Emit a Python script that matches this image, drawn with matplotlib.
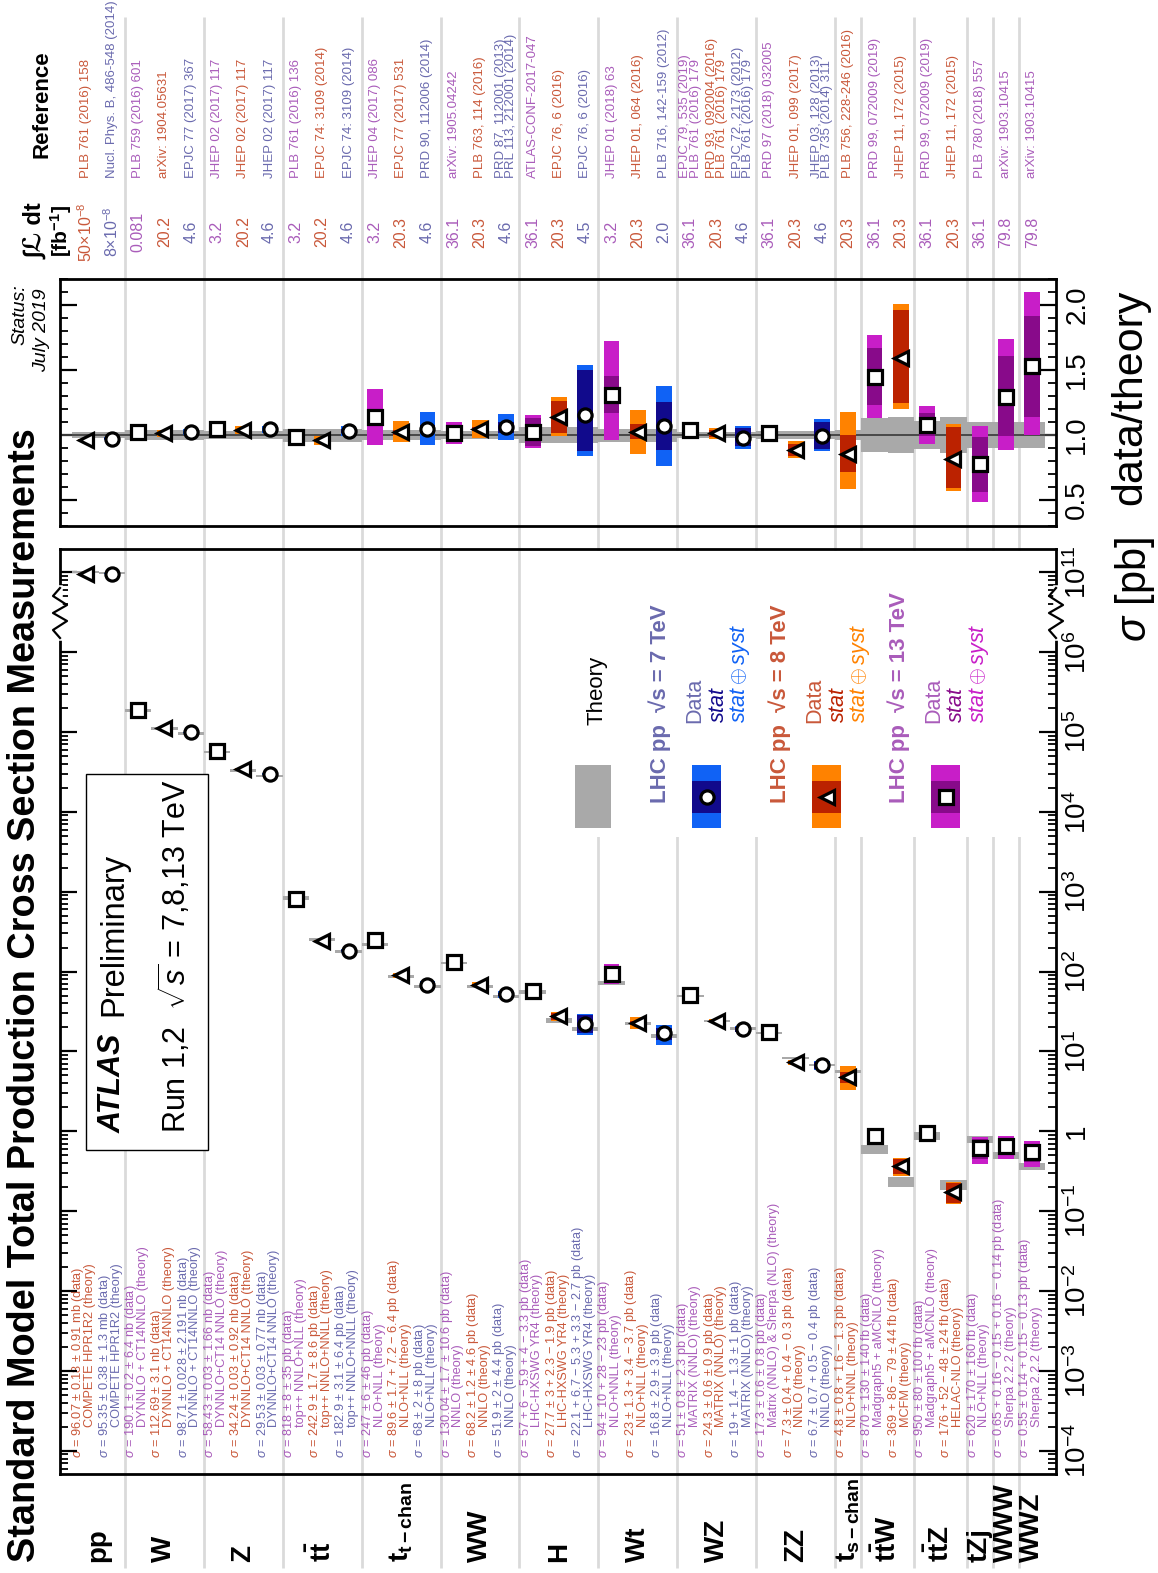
"""ATLAS SM total production cross-section summary (July 2019), portrait layout."""

import numpy as np
import matplotlib
matplotlib.use("Agg")
import matplotlib.pyplot as plt
from matplotlib import font_manager
from matplotlib.patches import Rectangle
from matplotlib.transforms import Affine2D
from matplotlib.ticker import FixedLocator, MultipleLocator

# ---------------------------------------------------------------------------
# measurements, one column each, left to right
energy = [8, 7, 13, 8, 7, 13, 8, 7, 13, 8, 7, 13, 8, 7, 13, 8, 7, 13, 8, 7,
          13, 8, 7, 13, 8, 7, 13, 8, 7, 8, 13, 8, 13, 8, 13, 13, 13]
process = ["pp", "pp", "W", "W", "W", "Z", "Z", "Z", "tt", "tt", "tt",
           "tchan", "tchan", "tchan", "WW", "WW", "WW", "H", "H", "H",
           "Wt", "Wt", "Wt", "WZ", "WZ", "WZ", "ZZ", "ZZ", "ZZ", "schan",
           "ttW", "ttW", "ttZ", "ttZ", "tZj", "WWW", "WWZ"]

# cross sections in pb
sigma_data = [9.607e10, 9.535e10, 1.901e5, 1.1269e5, 9.871e4, 5.843e4, 3.424e4, 2.953e4,
              818, 242.9, 182.9, 247, 89.6, 68, 130.04, 68.2, 51.9, 57, 27.7, 22.1,
              94, 23, 16.8, 51, 24.3, 19, 17.3, 7.3, 6.7, 4.8,
              0.870, 0.369, 0.950, 0.176, 0.620, 0.65, 0.55]
stat_hi = [0.18e9, 0.38e9, 200, 0, 28, 30, 30, 30, 8, 1.7, 3.1, 6, 1.7, 2, 1.7, 1.2, 2,
           6, 3, 6.7, 10, 1.3, 2.9, 0.8, 0.6, 1.4, 0.6, 0.4, 0.7, 0.8,
           0.130, 0.086, 0.080, 0.052, 0.170, 0.16, 0.14]
stat_lo = [0.18e9, 0.38e9, 200, 0, 28, 30, 30, 30, 8, 1.7, 3.1, 6, 1.7, 2, 1.7, 1.2, 2,
           5.9, 3, 5.3, 10, 1.3, 2.9, 0.8, 0.6, 1.3, 0.6, 0.4, 0.7, 0.8,
           0.130, 0.079, 0.080, 0.048, 0.170, 0.15, 0.14]
syst_hi = [0.91e9, 1.3e9, 6400, 3100, 2191, 1660, 920, 770, 35, 8.6, 6.4, 46, 7.2, 8,
           10.6, 4.6, 4.4, 4, 2.3, 3.3, 28, 3.4, 3.9, 2.3, 0.9, 1, 0.8, 0.4, 0.5, 1.6,
           0.140, 0.044, 0.100, 0.024, 0.160, 0.16, 0.15]
syst_lo = [0.91e9, 1.3e9, 6400, 3100, 2191, 1660, 920, 770, 35, 8.6, 6.4, 46, 6.4, 8,
           10.6, 4.6, 4.4, 3.3, 1.9, 2.7, 23, 3.7, 3.9, 2.3, 0.9, 1, 0.8, 0.3, 0.4, 1.3,
           0.140, 0.044, 0.100, 0.024, 0.160, 0.14, 0.13]
sigma_theory = [1.000e11, 9.80e10, 1.855e5, 1.112e5, 9.63e4, 5.60e4, 3.30e4, 2.83e4,
                832, 253, 177.3, 217, 87.7, 64.8, 128.4, 65.2, 49.0, 55.6, 24.4, 19.2,
                71.7, 22.4, 15.7, 49.1, 24.0, 19.4, 17.0, 8.25, 6.73, 5.61,
                0.600, 0.232, 0.880, 0.215, 0.800, 0.504, 0.360]
theory_rel = [0.02, 0.02, 0.04, 0.04, 0.04, 0.03, 0.03, 0.03, 0.05, 0.05, 0.05,
              0.04, 0.04, 0.04, 0.03, 0.03, 0.03, 0.06, 0.06, 0.06, 0.05, 0.05, 0.05,
              0.025, 0.025, 0.025, 0.03, 0.03, 0.03, 0.04,
              0.13, 0.14, 0.11, 0.14, 0.10, 0.10, 0.10]

data_text = [
    "$\\sigma$ = 96.07 ± 0.18 ± 0.91 mb (data)",
    "$\\sigma$ = 95.35 ± 0.38 ± 1.3 mb (data)",
    "$\\sigma$ = 190.1 ± 0.2 ± 6.4 nb (data)",
    "$\\sigma$ = 112.69 ± 3.1 nb (data)",
    "$\\sigma$ = 98.71 ± 0.028 ± 2.191 nb (data)",
    "$\\sigma$ = 58.43 ± 0.03 ± 1.66 nb (data)",
    "$\\sigma$ = 34.24 ± 0.03 ± 0.92 nb (data)",
    "$\\sigma$ = 29.53 ± 0.03 ± 0.77 nb (data)",
    "$\\sigma$ = 818 ± 8 ± 35 pb (data)",
    "$\\sigma$ = 242.9 ± 1.7 ± 8.6 pb (data)",
    "$\\sigma$ = 182.9 ± 3.1 ± 6.4 pb (data)",
    "$\\sigma$ = 247 ± 6 ± 46 pb (data)",
    "$\\sigma$ = 89.6 ± 1.7 + 7.2 − 6.4 pb (data)",
    "$\\sigma$ = 68 ± 2 ± 8 pb (data)",
    "$\\sigma$ = 130.04 ± 1.7 ± 10.6 pb (data)",
    "$\\sigma$ = 68.2 ± 1.2 ± 4.6 pb (data)",
    "$\\sigma$ = 51.9 ± 2 ± 4.4 pb (data)",
    "$\\sigma$ = 57 + 6 − 5.9 + 4 − 3.3 pb (data)",
    "$\\sigma$ = 27.7 ± 3 + 2.3 − 1.9 pb (data)",
    "$\\sigma$ = 22.1 + 6.7 − 5.3 + 3.3 − 2.7 pb (data)",
    "$\\sigma$ = 94 ± 10 + 28 − 23 pb (data)",
    "$\\sigma$ = 23 ± 1.3 + 3.4 − 3.7 pb (data)",
    "$\\sigma$ = 16.8 ± 2.9 ± 3.9 pb (data)",
    "$\\sigma$ = 51 ± 0.8 ± 2.3 pb (data)",
    "$\\sigma$ = 24.3 ± 0.6 ± 0.9 pb (data)",
    "$\\sigma$ = 19 + 1.4 − 1.3 ± 1 pb (data)",
    "$\\sigma$ = 17.3 ± 0.6 ± 0.8 pb (data)",
    "$\\sigma$ = 7.3 ± 0.4 + 0.4 − 0.3 pb (data)",
    "$\\sigma$ = 6.7 ± 0.7 + 0.5 − 0.4 pb (data)",
    "$\\sigma$ = 4.8 ± 0.8 + 1.6 − 1.3 pb (data)",
    "$\\sigma$ = 870 ± 130 ± 140 fb (data)",
    "$\\sigma$ = 369 + 86 − 79 ± 44 fb (data)",
    "$\\sigma$ = 950 ± 80 ± 100 fb (data)",
    "$\\sigma$ = 176 + 52 − 48 ± 24 fb (data)",
    "$\\sigma$ = 620 ± 170 ± 160 fb (data)",
    "$\\sigma$ = 0.65 + 0.16 − 0.15 + 0.16 − 0.14 pb (data)",
    "$\\sigma$ = 0.55 ± 0.14 + 0.15 − 0.13 pb (data)",
]
theory_text = [
    "COMPETE HPR1R2 (theory)", "COMPETE HPR1R2 (theory)",
    "DYNNLO + CT14NNLO (theory)", "DYNNLO + CT14NNLO (theory)", "DYNNLO + CT14NNLO (theory)",
    "DYNNLO+CT14 NNLO (theory)", "DYNNLO+CT14 NNLO (theory)", "DYNNLO+CT14 NNLO (theory)",
    "top++ NNLO+NLL (theory)", "top++ NNLO+NNLL (theory)", "top++ NNLO+NNLL (theory)",
    "NLO+NLL (theory)", "NLO+NLL (theory)", "NLO+NLL (theory)",
    "NNLO (theory)", "NNLO (theory)", "NNLO (theory)",
    "LHC-HXSWG YR4 (theory)", "LHC-HXSWG YR4 (theory)", "LHC-HXSWG YR4 (theory)",
    "NLO+NNLL (theory)", "NLO+NLL (theory)", "NLO+NLL (theory)",
    "MATRIX (NNLO) (theory)", "MATRIX (NNLO) (theory)", "MATRIX (NNLO) (theory)",
    "Matrix (NNLO) & Sherpa (NLO) (theory)", "NNLO (theory)", "NNLO (theory)",
    "NLO+NNL (theory)",
    "Madgraph5 + aMCNLO (theory)", "MCFM (theory)",
    "Madgraph5 + aMCNLO (theory)", "HELAC-NLO (theory)",
    "NLO+NLL (theory)", "Sherpa 2.2.2 (theory)", "Sherpa 2.2.2 (theory)",
]
lumi_text = ["50×10$^{-8}$", "8×10$^{-8}$", "0.081", "20.2", "4.6", "3.2", "20.2", "4.6",
             "3.2", "20.2", "4.6", "3.2", "20.3", "4.6", "36.1", "20.3", "4.6",
             "36.1", "20.3", "4.5", "3.2", "20.3", "2.0", "36.1", "20.3", "4.6",
             "36.1", "20.3", "4.6", "20.3", "36.1", "20.3", "36.1", "20.3", "36.1",
             "79.8", "79.8"]
ref_text = [
    "PLB 761 (2016) 158", "Nucl. Phys. B, 486-548 (2014)",
    "PLB 759 (2016) 601", "arXiv: 1904.05631", "EPJC 77 (2017) 367",
    "JHEP 02 (2017) 117", "JHEP 02 (2017) 117", "JHEP 02 (2017) 117",
    "PLB 761 (2016) 136", "EPJC 74: 3109 (2014)", "EPJC 74: 3109 (2014)",
    "JHEP 04 (2017) 086", "EPJC 77 (2017) 531", "PRD 90, 112006 (2014)",
    "arXiv: 1905.04242", "PLB 763, 114 (2016)", "PRD 87, 112001 (2013)\nPRL 113, 212001 (2014)",
    "ATLAS-CONF-2017-047", "EPJC 76, 6 (2016)", "EPJC 76, 6 (2016)",
    "JHEP 01 (2018) 63", "JHEP 01, 064 (2016)", "PLB 716, 142-159 (2012)",
    "EPJC 79, 535 (2019)\nPLB 761 (2016) 179", "PRD 93, 092004 (2016)\nPLB 761 (2016) 179",
    "EPJC 72, 2173 (2012)\nPLB 761 (2016) 179",
    "PRD 97 (2018) 032005", "JHEP 01, 099 (2017)", "JHEP 03, 128 (2013)\nPLB 735 (2014) 311",
    "PLB 756, 228-246 (2016)",
    "PRD 99, 072009 (2019)", "JHEP 11, 172 (2015)",
    "PRD 99, 072009 (2019)", "JHEP 11, 172 (2015)",
    "PLB 780 (2018) 557", "arXiv: 1903.10415", "arXiv: 1903.10415",
]
process_label = {
    "pp": "pp", "W": "W", "Z": "Z", "tt": r"$\mathbf{t\bar{t}}$",
    "tchan": r"$\mathbf{t}_{\mathbf{t-chan}}$", "WW": "WW", "H": "H", "Wt": "Wt",
    "WZ": "WZ", "ZZ": "ZZ", "schan": r"$\mathbf{t}_{\mathbf{s-chan}}$",
    "ttW": r"$\mathbf{t\bar{t}W}$", "ttZ": r"$\mathbf{t\bar{t}Z}$", "tZj": "tZj",
    "WWW": "WWW", "WWZ": "WWZ",
}

# ---------------------------------------------------------------------------
GRAY = "#a9a9a9"
SEP = "#dadada"
TXT = {7: "#6a6aae", 8: "#c9583a", 13: "#a95cba"}
STAT = {7: "#110a8c", 8: "#bb2200", 13: "#880a8a"}
TOT = {7: "#1062f5", 8: "#ff8200", 13: "#c81ec8"}
MARK = {7: "o", 8: "<", 13: "s"}
MS, MEW = 9.5, 2.3

installed = {f.name for f in font_manager.fontManager.ttflist}
NARROW = "Liberation Sans Narrow" if "Liberation Sans Narrow" in installed else "Liberation Sans"

plt.rcParams["font.family"] = ["Liberation Sans", "DejaVu Sans"]
plt.rcParams["mathtext.fontset"] = "custom"
plt.rcParams["mathtext.rm"] = NARROW
plt.rcParams["mathtext.it"] = "Liberation Sans:italic"
plt.rcParams["mathtext.bf"] = "Liberation Sans:bold"
plt.rcParams["mathtext.sf"] = "Liberation Sans"

W, H = 1158, 1573
fig = plt.figure(figsize=(W / 100, H / 100), dpi=100)
PX = Affine2D().scale(1 / W, -1 / H).translate(0, 1) + fig.transFigure


def frac_box(x0, y0, x1, y1):
    return [x0 / W, 1 - y1 / H, (x1 - x0) / W, (y1 - y0) / H]


def vtext(ax, x, y, s, **kw):
    """Text reading bottom-to-top, anchored at its start by default."""
    kw.setdefault("rotation", 90)
    kw.setdefault("rotation_mode", "anchor")
    kw.setdefault("ha", "left")
    kw.setdefault("va", "center")
    return ax.text(x, y, s, **kw)


# broken log axis: everything above ~10^6.4 is squeezed so that 10^11 sits one decade up
B0, B1, GAP = 6.4, 10.6, 0.2


def fwd(s):
    L = np.log10(np.clip(s, 1e-300, None))
    return np.where(L <= B0, L, np.where(L >= B1, L - (B1 - B0 - GAP),
                                          B0 + (L - B0) * GAP / (B1 - B0)))


def inv(u):
    u = np.asarray(u, dtype=float)
    return np.where(u <= B0, 10.0 ** u,
                    np.where(u >= B0 + GAP, 10.0 ** (u + (B1 - B0 - GAP)),
                             10.0 ** (B0 + (u - B0) * (B1 - B0) / GAP)))


XL, XR = 60, 1056
XLIM = (-0.97, 36.9)

bg = fig.add_axes(frac_box(XL, 0, XR, H), zorder=0)
bg.set_xlim(*XLIM)
bg.set_ylim(H, 0)
bg.axis("off")

ax = fig.add_axes(frac_box(XL, 549, XR, 1474), zorder=1)
rax = fig.add_axes(frac_box(XL, 279, XR, 526), zorder=1)
for a in (ax, rax):
    a.set_facecolor("none")
    a.set_xlim(*XLIM)
    a.tick_params(axis="x", which="both", bottom=False, top=False, labelbottom=False)
    a.tick_params(axis="y", which="both", direction="in", left=True, right=True,
                  labelleft=False, labelright=True)
    a.tick_params(axis="y", which="major", length=12, width=1.6, pad=6)
    a.tick_params(axis="y", which="minor", length=6, width=1.3)
    for sp in a.spines.values():
        sp.set_linewidth(2)

x = np.arange(len(energy))
en = np.array(energy)
d = np.array(sigma_data, dtype=float)
th = np.array(sigma_theory, dtype=float)
trel = np.array(theory_rel)
tot_hi = np.hypot(stat_hi, syst_hi)
tot_lo = np.hypot(stat_lo, syst_lo)
s_hi = np.array(stat_hi, dtype=float)
s_lo = np.array(stat_lo, dtype=float)

# ---- separators between processes, running the full height
seps = [i + 0.5 for i in range(len(process) - 1) if process[i] != process[i + 1]]
bg.vlines(seps, 17, 1568, color=SEP, lw=2, zorder=1)

# ---- main panel
ax.set_yscale("function", functions=(fwd, inv))
ax.set_ylim(10 ** -4.29, 10 ** 11.29)
major = [10.0 ** k for k in range(-4, 7)] + [1e11]
labels = ["$10^{%d}$" % k if k != 0 else "1" for k in range(-4, 7)] + ["$10^{11}$"]
minor = [m * 10.0 ** k for k in range(-5, 6) for m in range(2, 10)]
minor = [v for v in minor if 10 ** -4.29 < v < 10 ** 6.4] + [m * 1e10 for m in range(4, 10)]
ax.set_yticks(major, labels, rotation=90, fontsize=20, va="center")
ax.yaxis.set_minor_locator(FixedLocator(minor))

fth = np.maximum(trel, 0.035)
ax.bar(x, th * (1 + fth) - th * (1 - fth), bottom=th * (1 - fth), width=1.0,
       color=GRAY, lw=0, zorder=2)
for e in (7, 8, 13):
    m = en == e
    ax.bar(x[m], (tot_lo + tot_hi)[m], bottom=(d - tot_lo)[m], width=0.6,
           color=TOT[e], lw=0, zorder=3)
    ax.bar(x[m], (s_lo + s_hi)[m], bottom=(d - s_lo)[m], width=0.6,
           color=STAT[e], lw=0, zorder=4)
    ax.plot(x[m], d[m], ls="none", marker=MARK[e], ms=MS, mfc="white",
            mec="black", mew=MEW, zorder=5)

# break marks on both spines
yf = lambda ypx: (1474 - ypx) / 925.0
for xs in (0.0, 1.0):
    ax.plot([xs, xs], [yf(588), yf(638)], color="white", lw=4, transform=ax.transAxes,
            clip_on=False, zorder=6)
    zx = [0, -7, 7, -7, 7, -7, 0]
    zy = [588, 596, 605, 613, 621, 630, 638]
    ax.plot([xs + v / 996.0 for v in zx], [yf(v) for v in zy], color="black", lw=1.6,
            transform=ax.transAxes, clip_on=False, zorder=7)

# ---- ratio panel
r = d / th
rax.set_ylim(0.3, 2.2)
rax.set_yticks([0.5, 1.0, 1.5, 2.0], ["0.5", "1.0", "1.5", "2.0"], rotation=90,
               fontsize=20, va="center", family=[NARROW, "Liberation Sans"])
rax.yaxis.set_minor_locator(MultipleLocator(0.1))
rax.bar(x, 2 * trel, bottom=1 - trel, width=1.0, color=GRAY, lw=0, zorder=2)
rax.axhline(1.0, color="#404040", lw=1.3, zorder=2.5)
for e in (7, 8, 13):
    m = en == e
    rax.bar(x[m], (r * (tot_hi + tot_lo) / d)[m], bottom=(r * (1 - tot_lo / d))[m],
            width=0.6, color=TOT[e], lw=0, zorder=3)
    rax.bar(x[m], (r * (s_hi + s_lo) / d)[m], bottom=(r * (1 - s_lo / d))[m],
            width=0.6, color=STAT[e], lw=0, zorder=4)
    rax.plot(x[m], r[m], ls="none", marker=MARK[e], ms=MS, mfc="white",
             mec="black", mew=MEW, zorder=5)

# ---- per-measurement texts
for i, e in enumerate(energy):
    c = TXT[e]
    vtext(bg, i - 0.27, 1458, data_text[i], fontsize=9.2, color=c, zorder=3)
    vtext(bg, i + 0.18, 1427, theory_text[i], fontsize=9.2, color=c, zorder=3)
    vtext(bg, i, 232, lumi_text[i], fontsize=11.5, color=c, ha="center", zorder=3)
    vtext(bg, i, 178, ref_text[i], fontsize=9.5, color=c, linespacing=0.8, zorder=3)

cats = list(dict.fromkeys(process))
for p in cats:
    xc = np.mean([i for i, q in enumerate(process) if q == p])
    vtext(bg, xc, 1562, process_label[p], fontsize=20, fontweight="bold", zorder=3)

# ---- titles and headers (pixel coordinates)
vtext(bg, 25, 1562, "Standard Model Total Production Cross Section Measurements",
      transform=PX, fontsize=27.3, fontweight="bold")
vtext(bg, 36, 231, "∫ℒ dt", transform=PX, fontsize=17, fontweight="bold", ha="center")
vtext(bg, 61, 231, r"[fb$^{\mathbf{-1}}$]", transform=PX, fontsize=15, fontweight="bold",
      ha="center")
vtext(bg, 42, 104, "Reference", transform=PX, fontsize=16, fontweight="bold", ha="center")
vtext(bg, 20, 345, "Status:", transform=PX, fontsize=14, style="italic")
vtext(bg, 42, 372, "July 2019", transform=PX, fontsize=14, style="italic")

vtext(bg, 1135, 537, r"$\sigma$ [pb]", transform=PX, fontsize=30, ha="right")
vtext(bg, 1130, 290, "data/theory", transform=PX, fontsize=31, ha="right")

# ATLAS label box
bg.add_patch(Rectangle((86, 774), 122, 376, transform=PX, fc="white", ec="black",
                       lw=1, clip_on=False, zorder=2))
vtext(bg, 113, 1133, "ATLAS", transform=PX, fontsize=22, fontweight="bold",
      style="italic", zorder=3)
vtext(bg, 114, 1016, "Preliminary", transform=PX, fontsize=23.5, zorder=3)
vtext(bg, 175, 1133, r"Run 1,2  $\sqrt{s}$ = 7,8,13 TeV", transform=PX, fontsize=22,
      zorder=3)

# legend
bg.add_patch(Rectangle((548, 551), 488, 286, transform=PX, fc="white", ec="none",
                       clip_on=False, zorder=2))
bg.add_patch(Rectangle((575, 765), 36, 63, transform=PX, fc=GRAY, ec="none",
                       clip_on=False, zorder=3))
vtext(bg, 597, 725, "Theory", transform=PX, fontsize=16, color="black", zorder=3)
for e, xt, xb in ((7, 660, 692), (8, 780, 812), (13, 899, 931)):
    vtext(bg, xt, 803, f"LHC pp  √s = {e} TeV", transform=PX, fontsize=16,
          fontweight="bold", color=TXT[e], zorder=3)
    bg.add_patch(Rectangle((xb, 765), 29, 63, transform=PX, fc=TOT[e], ec="none",
                           clip_on=False, zorder=3))
    bg.add_patch(Rectangle((xb, 781), 29, 32, transform=PX, fc=STAT[e], ec="none",
                           clip_on=False, zorder=4))
    bg.plot([xb + 14.5], [797], transform=PX, ls="none", marker=MARK[e], ms=MS,
            mfc="white", mec="black", mew=MEW, clip_on=False, zorder=5)
    vtext(bg, xb + 3, 723, "Data", transform=PX, fontsize=15.5, color=TXT[e], zorder=3)
    vtext(bg, xb + 26, 723, "$stat$", transform=PX, fontsize=15.5, color=STAT[e], zorder=3)
    vtext(bg, xb + 48, 723, r"$stat\oplus syst$", transform=PX, fontsize=15.5,
          color=TOT[e], zorder=3)

fig.savefig("out.png", dpi=100)
